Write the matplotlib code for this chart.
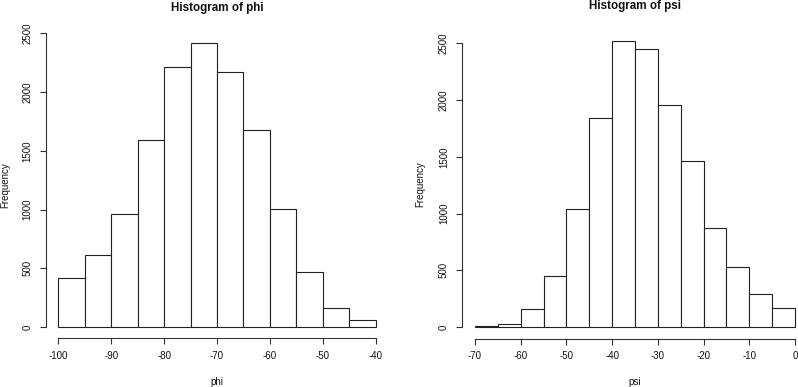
import matplotlib
matplotlib.use("Agg")
import matplotlib.pyplot as plt
import numpy as np

plt.rcParams['font.family'] = ['Liberation Sans', 'DejaVu Sans']

# phi histogram: bin edges and counts
phi_edges = [-100, -95, -90, -85, -80, -75, -70, -65, -60, -55, -50, -45, -40]
phi_counts = [415, 616, 965, 1590, 2212, 2416, 2169, 1675, 1008, 466, 159, 57]
phi_xticks = [-100, -90, -80, -70, -60, -50, -40]

# psi histogram
psi_edges = [-70, -65, -60, -55, -50, -45, -40, -35, -30, -25, -20, -15, -10, -5, 0]
psi_counts = [10, 25, 159, 450, 1038, 1846, 2525, 2451, 1958, 1461, 870, 526, 288, 165]
psi_xticks = [-70, -60, -50, -40, -30, -20, -10, 0]

yticks = [0, 500, 1000, 1500, 2000, 2500]

W, H = 798, 387
fig = plt.figure(figsize=(W / 100, H / 100), dpi=100)


def make_panel(rect_px, edges, counts, xticks, title, xlabel, title_off, ylab_x, xlab_y):
    x0, y0, x1, y1 = rect_px  # pixels, y from top
    ax = fig.add_axes([x0 / W, (H - y1) / H, (x1 - x0) / W, (y1 - y0) / H])
    edges = np.asarray(edges, float)
    counts = np.asarray(counts, float)
    ax.bar(edges[:-1], counts, width=np.diff(edges), align='edge',
           facecolor='white', edgecolor='#222222', linewidth=0.8)
    xr = edges[-1] - edges[0]
    ax.set_xlim(edges[0] - 0.04 * xr, edges[-1] + 0.04 * xr)
    ym = counts.max()
    ax.set_ylim(-0.04 * ym, ym * 1.04)
    for s in ['top', 'right']:
        ax.spines[s].set_visible(False)
    ax.spines['left'].set_bounds(yticks[0], yticks[-1])
    ax.spines['bottom'].set_bounds(xticks[0], xticks[-1])
    for s in ['left', 'bottom']:
        ax.spines[s].set_linewidth(0.8)
        ax.spines[s].set_color('#333333')
    ax.set_xticks(xticks)
    ax.set_yticks(yticks)
    ax.set_xticklabels([str(v) for v in xticks])
    ax.set_yticklabels([str(v) for v in yticks])
    ax.tick_params(axis='both', length=4, width=0.8, color='#333333',
                   labelsize=7, labelcolor='#111111')
    ax.tick_params(axis='x', pad=5)
    ax.tick_params(axis='y', pad=5.5)
    for lab in ax.get_yticklabels():
        lab.set_rotation(90)
        lab.set_va('center')
        lab.set_ha('right')
    ax.set_ylabel('Frequency', fontsize=7, color='#111111')
    ax.yaxis.set_label_coords(ylab_x, 0.5)
    ax.set_xlabel(xlabel, fontsize=7, color='#111111')
    ax.xaxis.set_label_coords(0.5, xlab_y)
    ax.text(0.5, 1 + title_off, title, transform=ax.transAxes, ha='center',
            va='center', fontsize=8.4, fontweight='bold', color='#111111')
    return ax


make_panel((45.6, 32.0, 388.4, 338.3), phi_edges, phi_counts, phi_xticks,
           'Histogram of phi', 'phi', 24 / 306.3, -0.104, -0.125)
make_panel((462.2, 29.2, 807.8, 338.5), psi_edges, psi_counts, psi_xticks,
           'Histogram of psi', 'psi', 23 / 309.3, -0.106, -0.124)

fig.savefig('out.png', dpi=100, facecolor='white')
